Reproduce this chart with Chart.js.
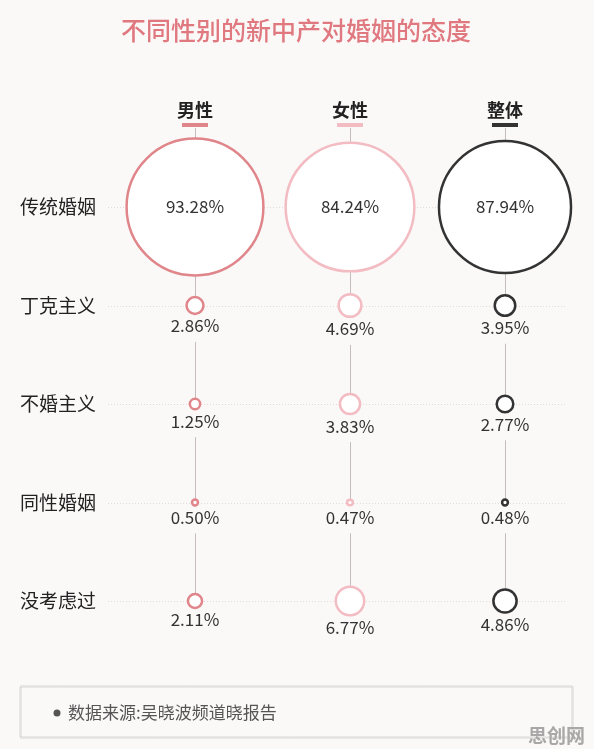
<!DOCTYPE html>
<html>
<head>
  <title>不同性别的新中产对婚姻的态度</title>
  <script src="https://cdn.jsdelivr.net/npm/chart.js"></script>
  <style>
    body { margin: 0; background: #fbf8f8; }
  </style>
</head>
<body>
  <canvas id="marriageChart" width="594" height="749"></canvas>

  <script>
    // data
    const chartTitle = '不同性别的新中产对婚姻的态度';
    const categories = ['传统婚姻', '丁克主义', '不婚主义', '同性婚姻', '没考虑过'];
    const groups = ['男性', '女性', '整体'];
    const maleValues = [93.28, 2.86, 1.25, 0.50, 2.11];
    const femaleValues = [84.24, 4.69, 3.83, 0.47, 6.77];
    const overallValues = [87.94, 3.95, 2.77, 0.48, 4.86];
    const sourceText = '数据来源:吴晓波频道晓报告';
    const watermark = '思创网';

    const colors = ['#e0858a', '#f2bcc2', '#333333'];
    const font = '"Noto Sans CJK SC", "Noto Sans", sans-serif';

    // bubble size grows with the value
    function radius(v) {
      return 4.5 * Math.pow(v, 0.6);
    }

    function makeDataset(values, gi) {
      return {
        label: groups[gi],
        data: values.map((v, i) => ({ x: gi, y: i, r: radius(v), v: v })),
        backgroundColor: '#ffffff',
        borderColor: colors[gi],
        borderWidth: 2.5,
        clip: false,
      };
    }

    // background, grid lines, texts
    const decor = {
      id: 'decor',
      beforeDraw(chart) {
        const ctx = chart.ctx;
        ctx.save();
        ctx.fillStyle = '#fbf8f8';
        ctx.fillRect(0, 0, chart.width, chart.height);
        ctx.restore();
      },
      beforeDatasetsDraw(chart) {
        const ctx = chart.ctx;
        const xs = chart.scales.x, ys = chart.scales.y;
        ctx.save();
        // dotted row lines
        ctx.strokeStyle = '#e6d9da';
        ctx.lineWidth = 1;
        ctx.setLineDash([1, 2]);
        categories.forEach((c, i) => {
          const y = Math.round(ys.getPixelForValue(i)) + 0.5;
          ctx.beginPath();
          ctx.moveTo(108, y);
          ctx.lineTo(566, y);
          ctx.stroke();
        });
        ctx.setLineDash([]);
        // vertical connectors
        ctx.strokeStyle = '#c4bcbd';
        chart.data.datasets.forEach((ds, gi) => {
          const x = Math.round(xs.getPixelForValue(gi)) + 0.5;
          let top = 128;
          ds.data.forEach((d, i) => {
            const cy = ys.getPixelForValue(i);
            ctx.beginPath();
            ctx.moveTo(x, top);
            ctx.lineTo(x, cy - d.r);
            ctx.stroke();
            top = i === 0 ? cy + d.r : cy + d.r + 28;
          });
        });
        ctx.restore();
      },
      afterDatasetsDraw(chart) {
        const ctx = chart.ctx;
        const xs = chart.scales.x, ys = chart.scales.y;
        ctx.save();
        // title
        ctx.textAlign = 'center';
        ctx.textBaseline = 'middle';
        ctx.fillStyle = '#e0787f';
        ctx.font = '500 25px ' + font;
        ctx.fillText(chartTitle, 296, 30);
        // column headers
        groups.forEach((g, gi) => {
          const x = xs.getPixelForValue(gi);
          ctx.fillStyle = '#222';
          ctx.font = 'bold 18px ' + font;
          ctx.fillText(g, x, 110);
          ctx.fillStyle = colors[gi];
          ctx.fillRect(x - 13, 123, 26, 4);
        });
        // row labels
        ctx.textAlign = 'left';
        ctx.fillStyle = '#222';
        ctx.font = '19px ' + font;
        categories.forEach((c, i) => {
          ctx.fillText(c, 20, ys.getPixelForValue(i));
        });
        // value labels
        ctx.textAlign = 'center';
        ctx.fillStyle = '#333';
        ctx.font = '17px ' + font;
        chart.data.datasets.forEach((ds, gi) => {
          const x = xs.getPixelForValue(gi);
          ds.data.forEach((d, i) => {
            const cy = ys.getPixelForValue(i);
            const txt = d.v.toFixed(2) + '%';
            if (d.r > 30) {
              ctx.fillText(txt, x, cy);
            } else {
              ctx.fillText(txt, x, cy + d.r + 12);
            }
          });
        });
        // source box
        ctx.strokeStyle = '#cfcaca';
        ctx.setLineDash([1, 1]);
        ctx.strokeRect(20.5, 686.5, 552, 51);
        ctx.setLineDash([]);
        ctx.fillStyle = '#555';
        ctx.beginPath();
        ctx.arc(57, 713, 3.5, 0, Math.PI * 2);
        ctx.fill();
        ctx.textAlign = 'left';
        ctx.font = '17px ' + font;
        ctx.fillText(sourceText, 68, 713);
        // watermark
        ctx.fillStyle = '#a9a7a7';
        ctx.font = 'bold 19px ' + font;
        ctx.fillText(watermark, 528, 736);
        ctx.restore();
      }
    };

    const ctx = document.getElementById('marriageChart').getContext('2d');
    new Chart(ctx, {
      type: 'bubble',
      data: {
        datasets: [
          makeDataset(maleValues, 0),
          makeDataset(femaleValues, 1),
          makeDataset(overallValues, 2),
        ],
      },
      options: {
        responsive: false,
        animation: false,
        events: [],
        layout: {
          autoPadding: false,
          padding: { left: 117.5, right: 11.5, top: 157.75, bottom: 98.75 },
        },
        scales: {
          x: { type: 'linear', display: false, min: -0.5, max: 2.5 },
          y: { type: 'linear', display: false, min: -0.5, max: 4.5, reverse: true },
        },
        plugins: {
          legend: { display: false },
          tooltip: { enabled: false },
        },
      },
      plugins: [decor],
    });
  </script>
</body>
</html>
